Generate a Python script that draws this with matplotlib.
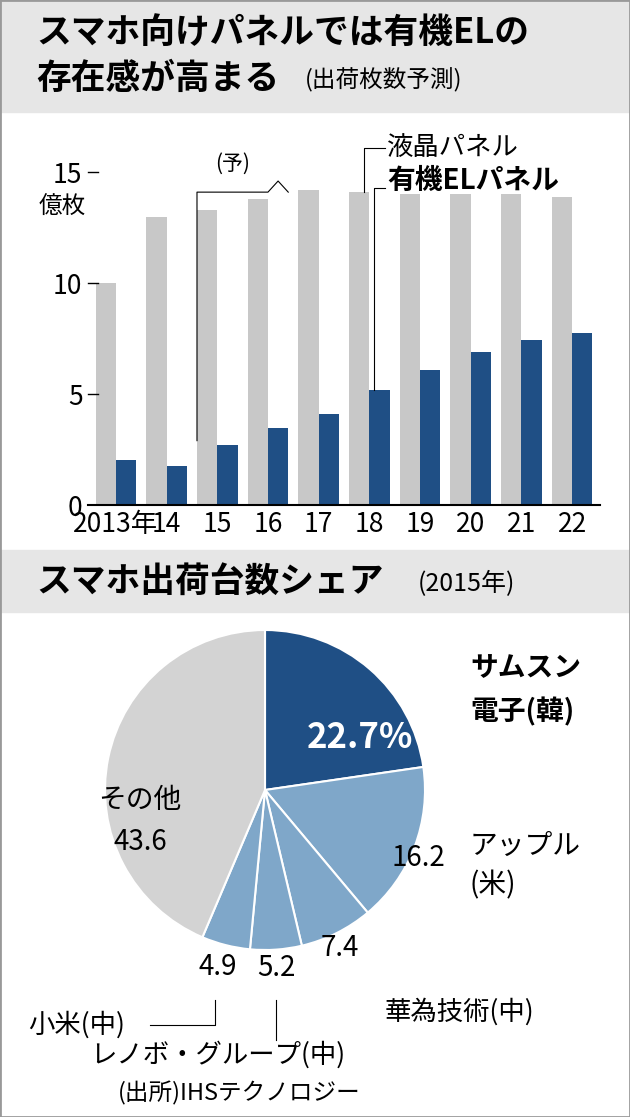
import matplotlib.pyplot as plt
from matplotlib.patches import Rectangle

plt.rcParams['font.family'] = 'Noto Sans CJK JP'

years = ["2013年", "14", "15", "16", "17", "18", "19", "20", "21", "22"]
lcd = [10.0, 13.0, 13.3, 13.8, 14.2, 14.1, 14.0, 14.0, 14.0, 13.9]
oled = [2.05, 1.75, 2.7, 3.45, 4.1, 5.2, 6.1, 6.9, 7.45, 7.75]

share_labels = ["サムスン電子(韓)", "アップル(米)", "華為技術(中)", "レノボ・グループ(中)", "小米(中)", "その他"]
share_values = [22.7, 16.2, 7.4, 5.2, 4.9, 43.6]

W, H = 630, 1117
fig = plt.figure(figsize=(W / 100, H / 100), dpi=100)
fig.patch.set_facecolor('white')

def fx(px): return px / W
def fy(py): return 1 - py / H

# header backgrounds
fig.patches.append(Rectangle((0, fy(112)), 1, 112 / H, transform=fig.transFigure, color='#e6e6e6', zorder=0))
fig.patches.append(Rectangle((0, fy(612)), 1, 62 / H, transform=fig.transFigure, color='#e6e6e6', zorder=0))
fig.text(fx(36), fy(32), "スマホ向けパネルでは有機ELの", fontsize=25, fontweight='bold', va='center')
fig.text(fx(36), fy(78), "存在感が高まる", fontsize=25, fontweight='bold', va='center')
fig.text(fx(305), fy(80), "(出荷枚数予測)", fontsize=17, va='center')
fig.text(fx(36), fy(582), "スマホ出荷台数シェア", fontsize=25, fontweight='bold', va='center')
fig.text(fx(418), fy(584), "(2015年)", fontsize=18, va='center')

# bar chart
ax = fig.add_axes([fx(88), fy(505), fx(600) - fx(88), (505 - 130) / H])
x = list(range(len(years)))
bw = 0.4
ax.bar([i - bw / 2 for i in x], lcd, bw, color='#c8c8c8')
ax.bar([i + bw / 2 for i in x], oled, bw, color='#1f4f85')
ax.set_ylim(0, 16.9)
ax.set_xlim(-0.55, len(years) - 0.45)
ax.set_yticks([0, 5, 10, 15])
ax.set_yticklabels(["0", "5", "10", "15"], fontsize=19)
ax.set_xticks(x)
ax.set_xticklabels(years, fontsize=19)
ax.tick_params(axis='y', length=0, pad=4)
ax.tick_params(axis='x', length=0, pad=4)
for s in ['top', 'right', 'left']:
    ax.spines[s].set_visible(False)
ax.spines['bottom'].set_linewidth(1.5)
for yv in [5, 10, 15]:
    ax.plot([-0.55, -0.35], [yv, yv], color='black', lw=1, clip_on=False)
ax.text(-1.05, 13.4, "億枚", fontsize=17, ha='center', va='center')

# annotations
ax.plot([1.6, 1.6, 3.0, 3.2, 3.4], [2.9, 14.1, 14.1, 14.6, 14.1], color='black', lw=0.8, clip_on=False)
ax.text(2.3, 14.9, "(予)", fontsize=15, ha='center', va='bottom')
ax.plot([4.9, 4.9, 5.3], [14.1, 16.1, 16.1], color='black', lw=0.8, clip_on=False)
ax.text(5.35, 16.1, "液晶パネル", fontsize=19, va='center')
ax.plot([5.1, 5.1, 5.3], [5.2, 14.3, 14.3], color='black', lw=0.8, clip_on=False)
ax.text(5.35, 14.6, "有機ELパネル", fontsize=20, fontweight='bold', va='center')

# pie chart
r = 200
pax = fig.add_axes([fx(265 - r), fy(790 + r), 2 * r / W, 2 * r / H])
colors = ['#1f4f85', '#7fa7c9', '#7fa7c9', '#7fa7c9', '#7fa7c9', '#d3d3d3']
pax.pie(share_values, colors=colors, startangle=90, counterclock=False,
        wedgeprops=dict(edgecolor='white', linewidth=1.5))
pax.set_aspect('auto')

fig.text(fx(360), fy(738), "22.7%", fontsize=25, fontweight='bold', color='white', ha='center', va='center')
fig.text(fx(470), fy(668), "サムスン", fontsize=20, fontweight='bold', va='center')
fig.text(fx(470), fy(712), "電子(韓)", fontsize=20, fontweight='bold', va='center')
fig.text(fx(418), fy(858), "16.2", fontsize=20, ha='center', va='center')
fig.text(fx(470), fy(846), "アップル", fontsize=20, va='center')
fig.text(fx(470), fy(885), "(米)", fontsize=20, va='center')
fig.text(fx(340), fy(948), "7.4", fontsize=20, ha='center', va='center')
fig.text(fx(385), fy(1012), "華為技術(中)", fontsize=19, va='center')
fig.text(fx(276), fy(968), "5.2", fontsize=20, ha='center', va='center')
fig.text(fx(218), fy(967), "4.9", fontsize=20, ha='center', va='center')
fig.text(fx(140), fy(800), "その他", fontsize=20, ha='center', va='center')
fig.text(fx(140), fy(842), "43.6", fontsize=20, ha='center', va='center')
fig.add_artist(plt.Line2D([fx(150), fx(215), fx(215)], [fy(1025), fy(1025), fy(1000)], color='black', lw=0.8))
fig.text(fx(28), fy(1025), "小米(中)", fontsize=19, va='center')
fig.add_artist(plt.Line2D([fx(276), fx(276)], [fy(1040), fy(1000)], color='black', lw=0.8))
fig.text(fx(90), fy(1055), "レノボ・グループ(中)", fontsize=19, va='center')
fig.text(fx(118), fy(1093), "(出所)IHSテクノロジー", fontsize=17, va='center')

fig.patches.append(Rectangle((0, 0), 1, 1, transform=fig.transFigure, fill=False, edgecolor='#999999', lw=2))
fig.savefig("out.png", dpi=100)
